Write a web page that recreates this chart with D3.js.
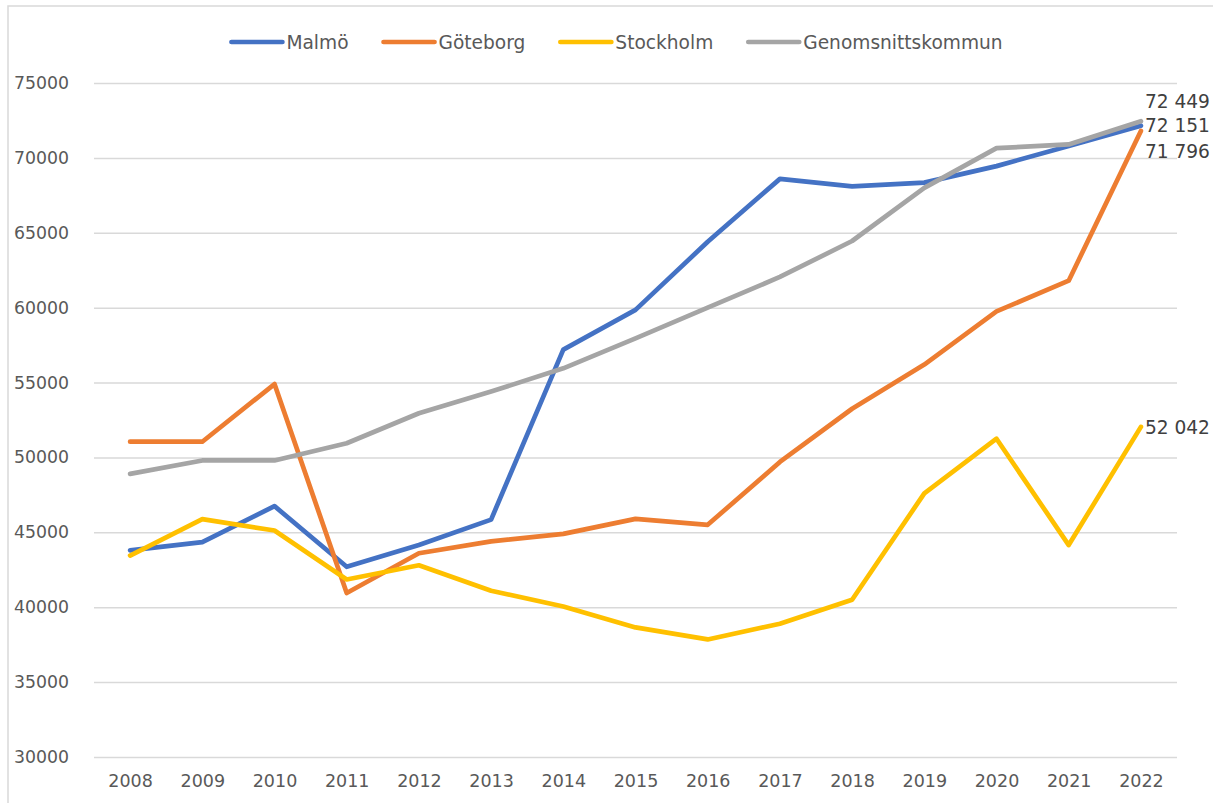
<!DOCTYPE html>
<html>
<head>
<meta charset="utf-8">
<script src="https://cdn.jsdelivr.net/npm/d3@7"></script>
<style>
  body { margin: 0; background: #fff; }
  svg { display: block; font-family: "DejaVu Sans", sans-serif; }
</style>
</head>
<body>
<svg id="chart"></svg>
<script>
const years = ["2008", "2009", "2010", "2011", "2012", "2013", "2014", "2015",
  "2016", "2017", "2018", "2019", "2020", "2021", "2022"];

const seriesNames = ["Malmö", "Göteborg", "Stockholm", "Genomsnittskommun"];

const malmo = [43800, 44350, 46750, 42700, 44150, 45850, 57200, 59850,
  64400, 68600, 68100, 68350, 69450, 70800, 72151];
const goteborg = [51050, 51050, 54900, 40950, 43600, 44400, 44900, 45900,
  45500, 49700, 53250, 56200, 59750, 61800, 71796];
const stockholm = [43450, 45880, 45120, 41850, 42800, 41100, 40050, 38650,
  37850, 38900, 40500, 47600, 51250, 44150, 52042];
const genomsnitt = [48900, 49800, 49800, 50950, 52950, 54400, 55950, 57950,
  60000, 62050, 64450, 68000, 70650, 70900, 72449];

const yTicks = [30000, 35000, 40000, 45000, 50000, 55000, 60000, 65000, 70000, 75000];

const width = 1213;
const height = 803;
const plotLeft = 94, plotRight = 1177, plotTop = 83, plotBottom = 757;

const colors = ["#4472C4", "#ED7D31", "#FFC000", "#A5A5A5"];
// vertical shift of the end labels so they don't overlap
const labelShift = [0, 20, 0, -20];

const series = seriesNames.map((name, i) => ({
  name,
  values: [malmo, goteborg, stockholm, genomsnitt][i],
  color: colors[i],
  shift: labelShift[i]
}));

const svg = d3.select("#chart").attr("width", width).attr("height", height);

svg.append("rect").attr("width", width).attr("height", height).attr("fill", "#fff");
// chart frame (cut off at right/bottom like the picture)
svg.append("rect")
  .attr("x", 8).attr("y", 6)
  .attr("width", 1400).attr("height", 1000)
  .attr("fill", "none")
  .attr("stroke", "#d9d9d9")
  .attr("stroke-width", 1.5);

const x = d3.scalePoint().domain(years).range([plotLeft, plotRight]).padding(0.5);
const y = d3.scaleLinear().domain([30000, 75000]).range([plotBottom, plotTop]);

// Y axis + gridlines
const yAxis = svg.append("g")
  .attr("transform", `translate(${plotLeft},0)`)
  .call(d3.axisLeft(y).tickValues(yTicks).tickFormat(d3.format("d"))
    .tickSize(-(plotRight - plotLeft)).tickPadding(25));
yAxis.select(".domain").remove();
yAxis.selectAll(".tick line").attr("stroke", "#d9d9d9").attr("stroke-width", 1.5);
yAxis.selectAll(".tick text")
  .attr("fill", "#595959")
  .style("font-size", "17.3px")
  .style("font-family", "DejaVu Sans, sans-serif");

// X axis
const xAxis = svg.append("g")
  .attr("transform", `translate(0,${plotBottom})`)
  .call(d3.axisBottom(x).tickSize(0).tickPadding(18));
xAxis.select(".domain").remove();
xAxis.selectAll(".tick text")
  .attr("fill", "#595959")
  .style("font-size", "17.5px")
  .style("font-family", "DejaVu Sans, sans-serif");

// Lines
const line = d3.line()
  .x((d, i) => x(years[i]))
  .y((d) => y(d));

svg.append("g")
  .selectAll("path")
  .data(series)
  .enter()
  .append("path")
  .attr("d", (d) => line(d.values))
  .attr("fill", "none")
  .attr("stroke", (d) => d.color)
  .attr("stroke-width", 4.7)
  .attr("stroke-linejoin", "round")
  .attr("stroke-linecap", "round");

// End labels
const sv = d3.formatLocale({ decimal: ",", thousands: " ", grouping: [3], currency: ["", " kr"] });
const fmt = sv.format(",d");
const last = years.length - 1;

svg.append("g")
  .selectAll("text")
  .data(series)
  .enter()
  .append("text")
  .attr("x", x(years[last]) + 4)
  .attr("y", (d) => y(d.values[last]) + d.shift)
  .attr("dy", "0.36em")
  .attr("fill", "#404040")
  .style("font-size", "18.6px")
  .text((d) => fmt(d.values[last]));

// Legend
const legend = svg.append("g");
const items = legend.selectAll("g")
  .data(series)
  .enter()
  .append("g");

items.append("line")
  .attr("x1", 0).attr("x2", 51)
  .attr("y1", 42).attr("y2", 42)
  .attr("stroke", (d) => d.color)
  .attr("stroke-width", 4.7)
  .attr("stroke-linecap", "round");

items.append("text")
  .attr("x", 55)
  .attr("y", 48.5)
  .attr("fill", "#595959")
  .style("font-size", "18.6px")
  .text((d) => d.name);

const widths = [];
items.each(function () {
  widths.push(55 + d3.select(this).select("text").node().getComputedTextLength());
});
const total = d3.sum(widths) + 35 * (widths.length - 1);
let offset = 617 - total / 2;
items.attr("transform", (d, i) => {
  const pos = offset;
  offset += widths[i] + 35;
  return `translate(${pos},0)`;
});
</script>
</body>
</html>
